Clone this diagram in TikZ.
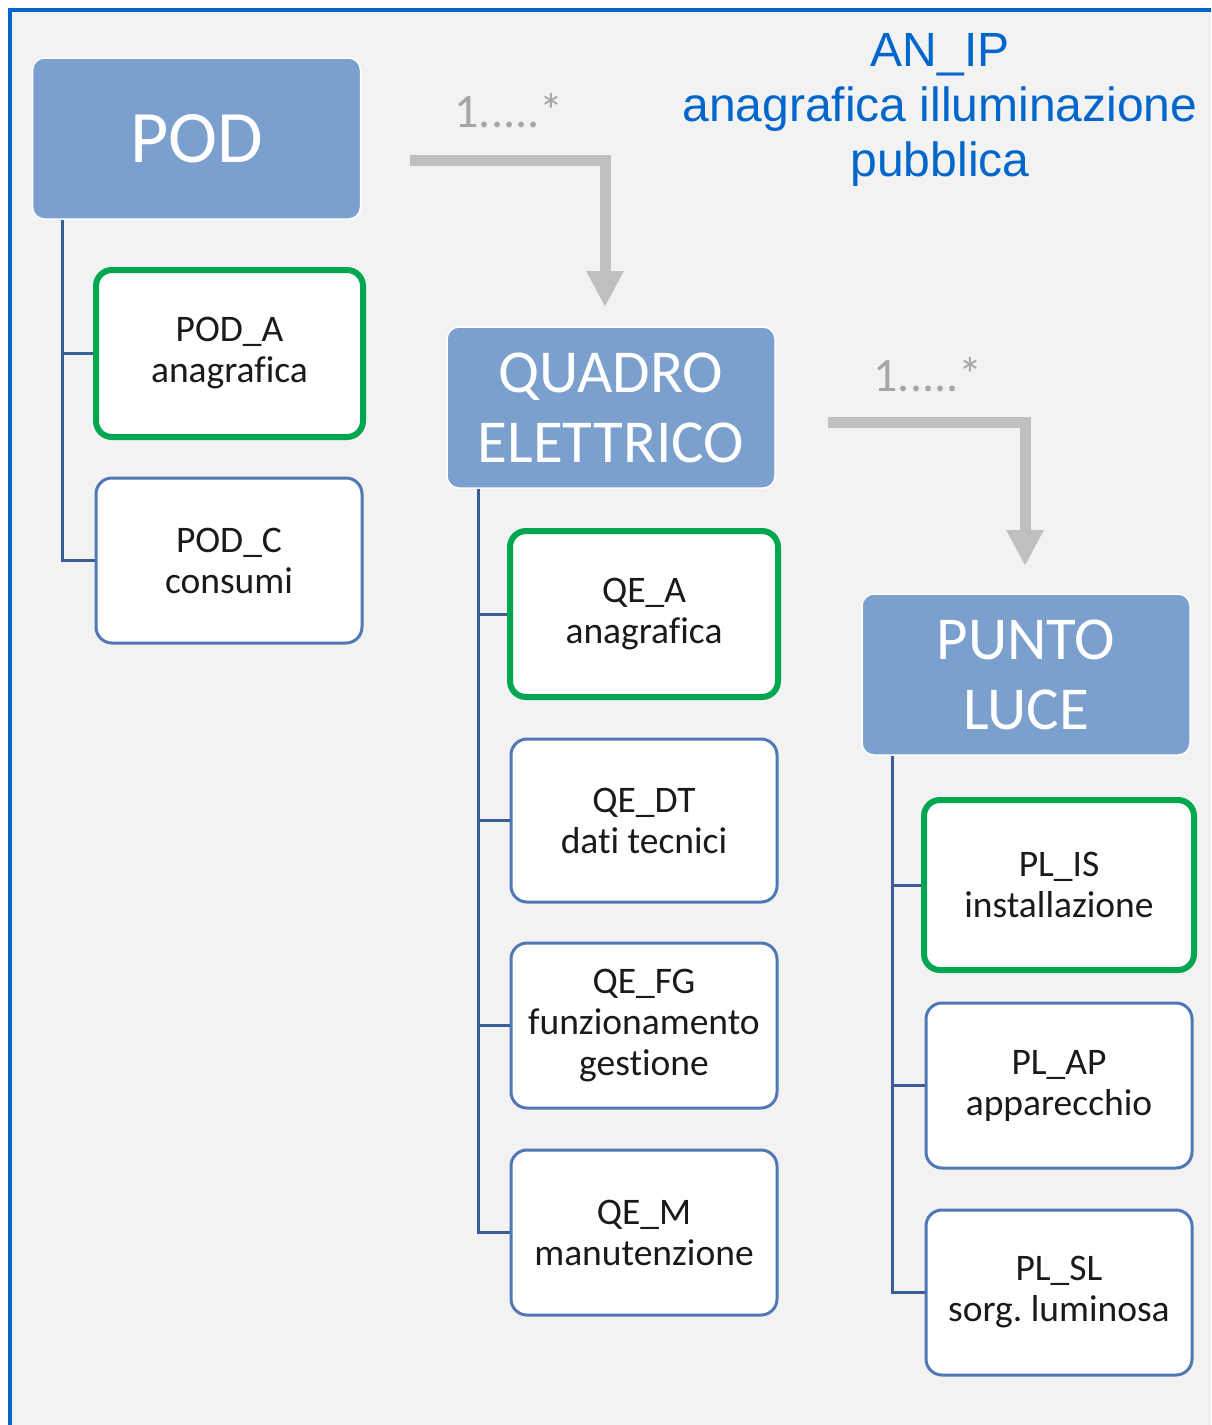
\documentclass[tikz,border=0pt]{standalone}
\usepackage{fontspec}
\setmainfont{Carlito}[Ligatures=NoCommon]
\newfontfamily\titlefont{Liberation Sans}
\usetikzlibrary{arrows.meta}
\frenchspacing
\definecolor{framebl}{RGB}{0,102,204}
\definecolor{bgrey}{RGB}{242,242,242}
\definecolor{headfill}{RGB}{124,160,206}
\definecolor{childbl}{RGB}{79,120,180}
\definecolor{greenbd}{RGB}{0,166,80}
\definecolor{treebl}{RGB}{60,92,152}
\definecolor{arrgrey}{RGB}{191,191,191}
\definecolor{labgrey}{RGB}{166,166,166}
\definecolor{txt}{RGB}{26,26,26}
\tikzset{
  headbox/.style={rectangle, rounded corners=12pt, fill=headfill, draw=white, line width=1.5pt,
    minimum width=328pt, minimum height=161pt, inner sep=0pt, align=center, text=white,
    font=\fontsize{61}{70}\selectfont},
  childbox/.style={rectangle, rounded corners=16pt, fill=white, draw=childbl, line width=3pt,
    minimum width=266pt, minimum height=165pt, inner sep=0pt, align=center, text=txt,
    font=\fontsize{37.5}{41}\selectfont},
  greenbox/.style={childbox, draw=greenbd, line width=6pt},
  treeline/.style={draw=treebl, line width=3pt},
  relarrow/.style={draw=arrgrey, line width=11pt, line join=miter,
    -{Triangle[width=35pt,length=36pt]}},
  mult/.style={text=labgrey, font=\fontsize{48}{50}\selectfont, inner sep=0pt},
}
\begin{document}
\begin{tikzpicture}[x=1pt,y=-1pt]
\useasboundingbox (0,0) rectangle (1211,1425);
\fill[bgrey] (10,10) rectangle (1211,1425);
\draw[framebl, line width=4pt] (10,1425) -- (10,10) -- (1211,10);

\node[text=framebl, align=center, font=\titlefont\fontsize{48}{55}\selectfont, inner sep=0pt]
  (title) at (940,110) {AN\_IP\\anagrafica illuminazione\\pubblica};

% POD
\node[headbox, font=\fontsize{74}{80}\selectfont] (pod) at (196.5,138.5) {POD};
\node[greenbox, minimum width=267pt, minimum height=167pt] (poda) at (229.5,353.5) {POD\_A\\anagrafica};
\node[childbox] (podc) at (229,560.5) {POD\_C\\consumi};
\draw[treeline] ([xshift=31pt]pod.south west) |- (poda.west);
\draw[treeline] ([xshift=31pt]pod.south west) |- (podc.west);

% QUADRO
\node[headbox] (qe) at (611,407.5) {QUADRO\\ELETTRICO};
\node[greenbox, minimum width=268pt, minimum height=166pt] (qea) at (644,614) {QE\_A\\anagrafica};
\node[childbox, minimum height=163pt] (qedt) at (644,820.5) {QE\_DT\\dati tecnici};
\node[childbox] (qefg) at (644,1025.5) {QE\_FG\\funzionamento\\gestione};
\node[childbox] (qem) at (644,1232.5) {QE\_M\\manutenzione};
\draw[treeline] ([xshift=32pt]qe.south west) |- (qea.west);
\draw[treeline] ([xshift=32pt]qe.south west) |- (qedt.west);
\draw[treeline] ([xshift=32pt]qe.south west) |- (qefg.west);
\draw[treeline] ([xshift=32pt]qe.south west) |- (qem.west);

% PUNTO LUCE
\node[headbox] (pl) at (1026,674.5) {PUNTO\\LUCE};
\node[greenbox, minimum width=270pt, minimum height=170pt] (plis) at (1059,885) {PL\_IS\\installazione};
\node[childbox] (plap) at (1059,1085.5) {PL\_AP\\apparecchio};
\node[childbox] (plsl) at (1059,1292.5) {PL\_SL\\sorg. luminosa};
\draw[treeline] ([xshift=31pt]pl.south west) |- (plis.west);
\draw[treeline] ([xshift=31pt]pl.south west) |- (plap.west);
\draw[treeline] ([xshift=31pt]pl.south west) |- (plsl.west);

% relation arrows
\coordinate (a1s) at (410,160);
\coordinate (a1e) at (605,307);
\draw[relarrow] (a1s) -| (a1e);
\node[mult] (m1) at (509,111) {1.....*};
\coordinate (a2s) at (828,422);
\coordinate (a2e) at (1025,566);
\draw[relarrow] (a2s) -| (a2e);
\node[mult] (m2) at (928,375) {1.....*};
\end{tikzpicture}
\end{document}
